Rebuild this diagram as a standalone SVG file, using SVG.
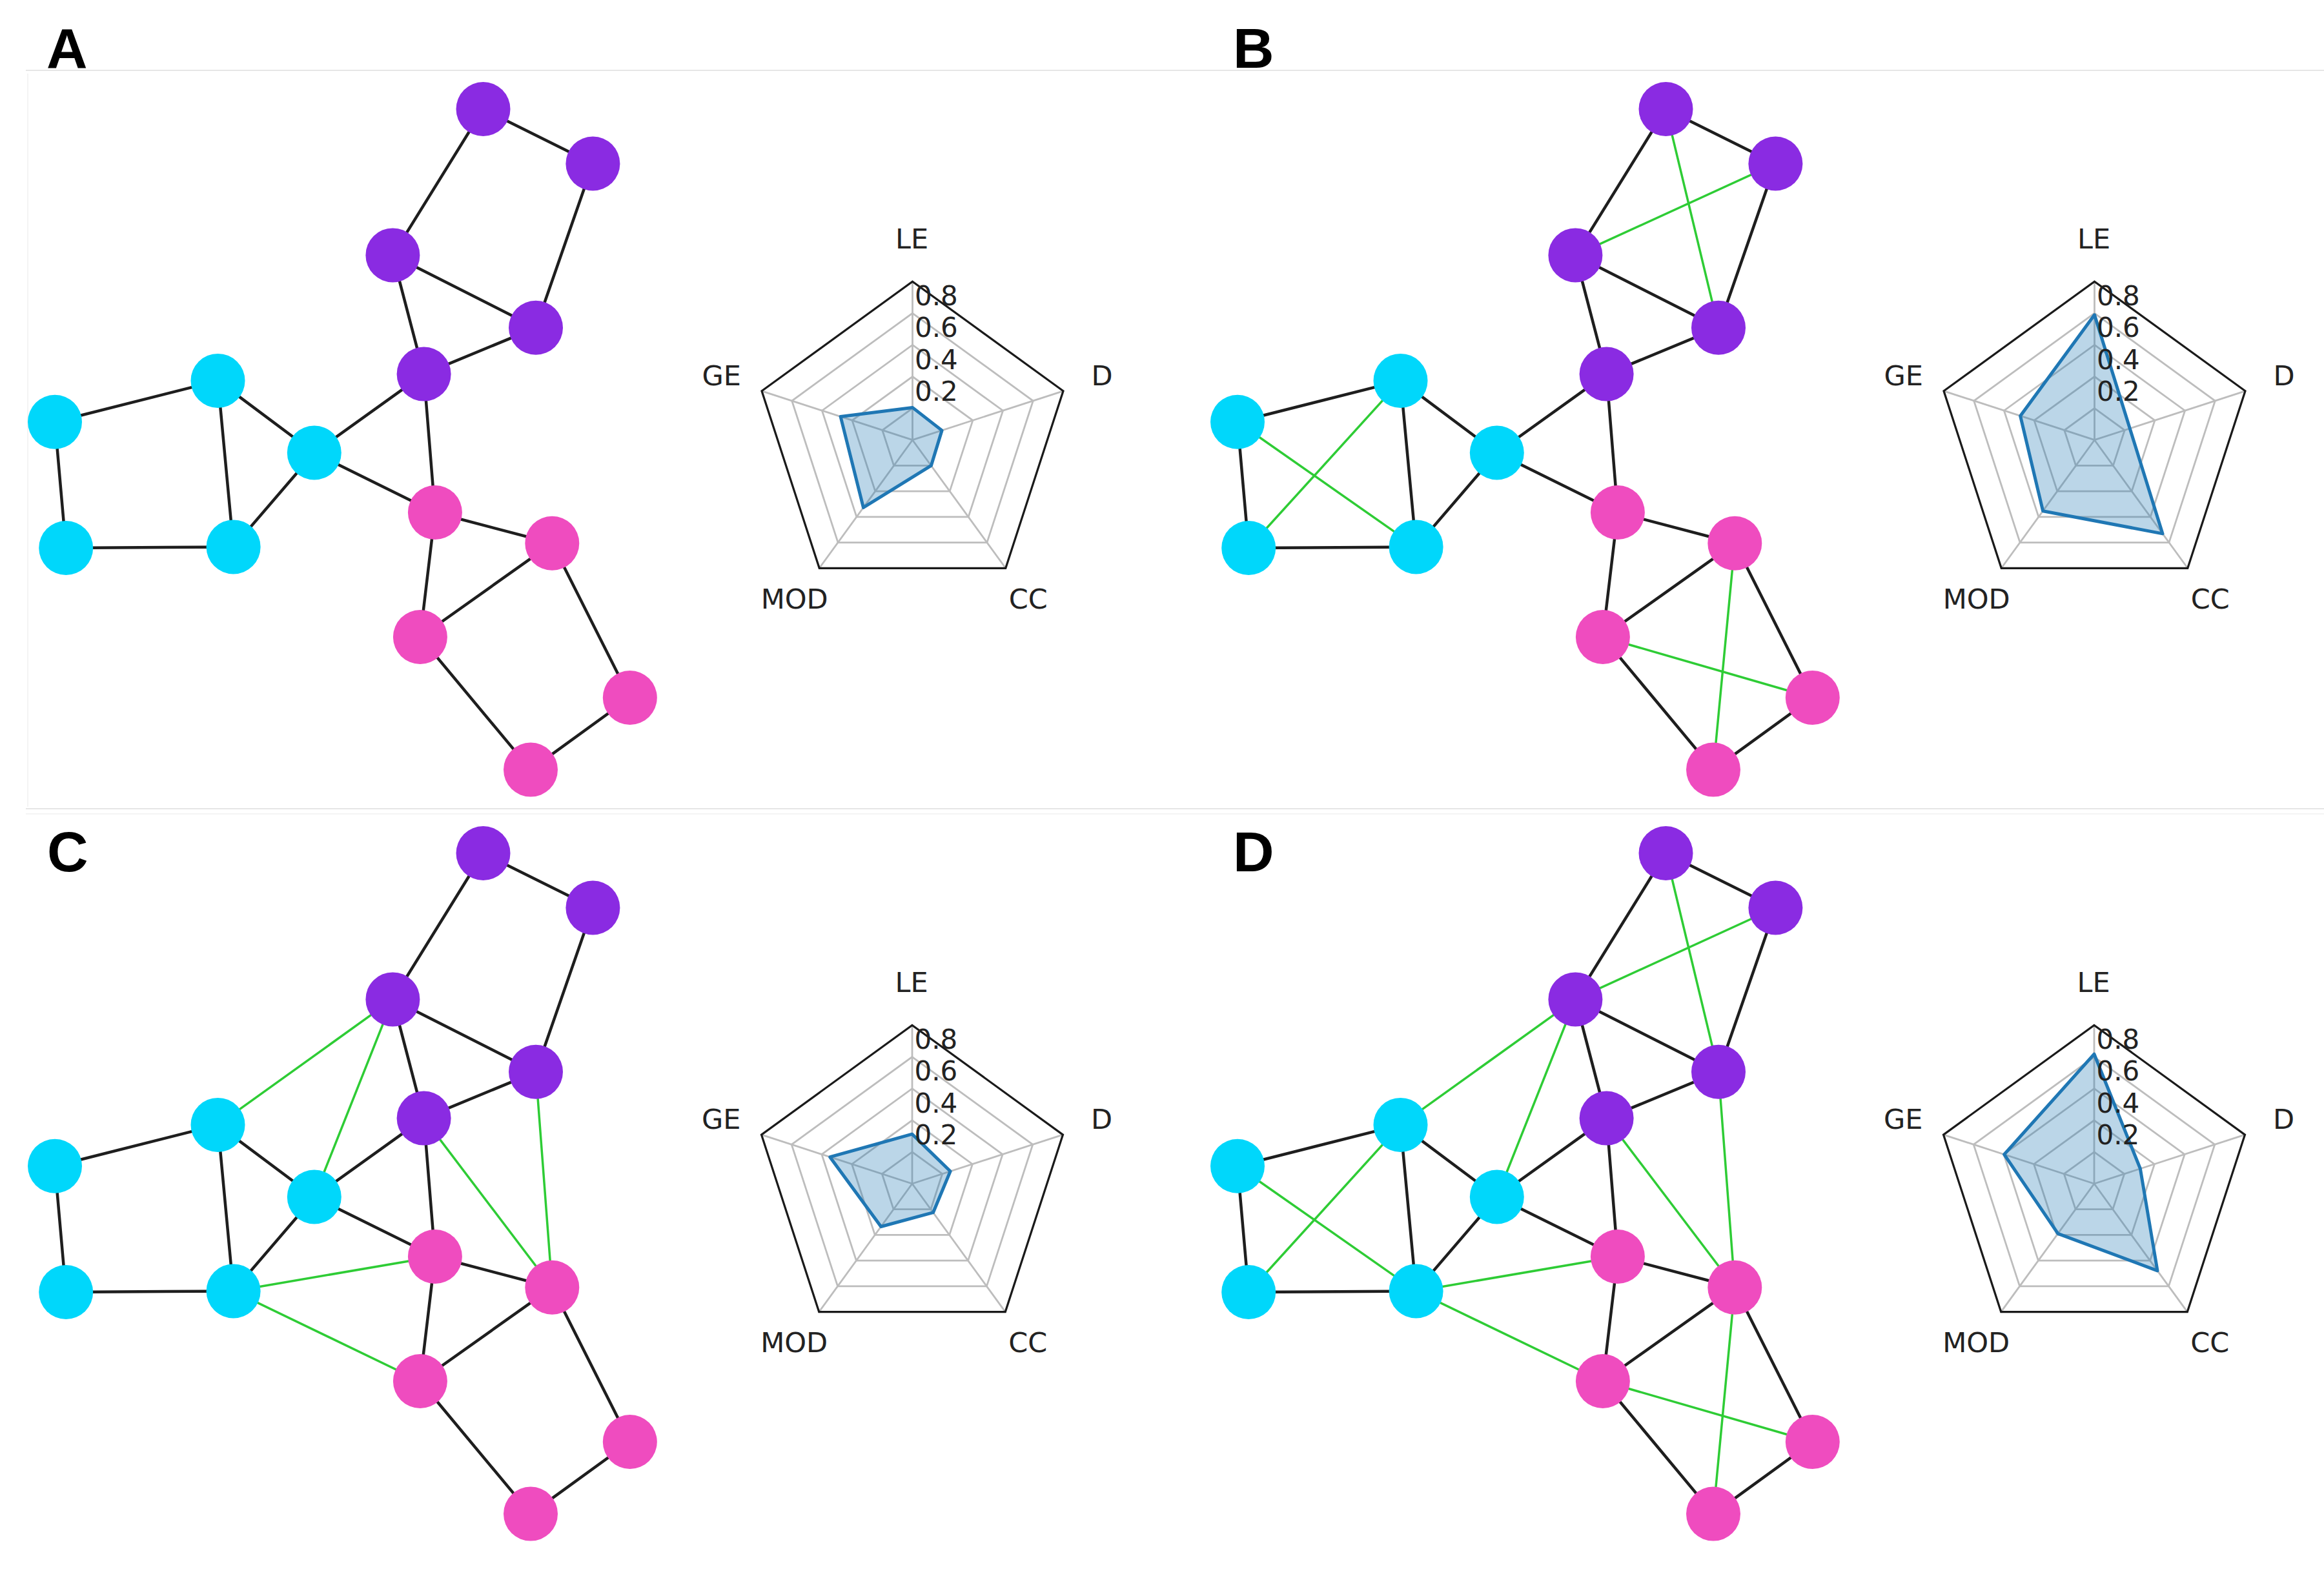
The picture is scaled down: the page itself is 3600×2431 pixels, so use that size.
<svg xmlns="http://www.w3.org/2000/svg" width="3600" height="2431" viewBox="0 0 3600 2431">
<style>
.e{stroke:#1e1e1e;stroke-width:4.5;fill:none;stroke-linecap:round}
.g{stroke:#2ecc35;stroke-width:3.5;fill:none;stroke-linecap:round}
.np{fill:#8a2be2}
.nc{fill:#00d7fb}
.nk{fill:#ef4cbf}
.ring{fill:none;stroke:#bdbdbd;stroke-width:2.8}
.spoke{stroke:#bdbdbd;stroke-width:2.8}
.frame{fill:none;stroke:#1a1a1a;stroke-width:3.2}
.data{fill:#1f77b4;fill-opacity:0.3;stroke:#1f77b4;stroke-width:5;stroke-linejoin:round}
.lab{font-family:"DejaVu Sans",sans-serif;font-size:43px;fill:#222;text-anchor:middle}
.tick{font-family:"DejaVu Sans",sans-serif;font-size:42px;fill:#222}
.title{font-family:"Liberation Sans",Arial,sans-serif;font-size:88px;font-weight:bold;fill:#000}
.sep{stroke:#e6e6e6;stroke-width:2}
.sep2{stroke:#f4f4f4;stroke-width:2}
</style>
<defs>
<g id="radarGrid">
<line class="spoke" x1="0" y1="0" x2="0" y2="-245.5"/>
<line class="spoke" x1="0" y1="0" x2="233.5" y2="-75.9"/>
<line class="spoke" x1="0" y1="0" x2="144.3" y2="198.6"/>
<line class="spoke" x1="0" y1="0" x2="-144.3" y2="198.6"/>
<line class="spoke" x1="0" y1="0" x2="-233.5" y2="-75.9"/>
<polygon class="ring" points="0,-49.1 46.7,-15.2 28.9,39.7 -28.9,39.7 -46.7,-15.2"/>
<polygon class="ring" points="0,-98.2 93.4,-30.3 57.7,79.4 -57.7,79.4 -93.4,-30.3"/>
<polygon class="ring" points="0,-147.3 140.1,-45.5 86.6,119.2 -86.6,119.2 -140.1,-45.5"/>
<polygon class="ring" points="0,-196.4 186.8,-60.7 115.4,158.9 -115.4,158.9 -186.8,-60.7"/>
<polygon class="frame" points="0,-245.5 233.5,-75.9 144.3,198.6 -144.3,198.6 -233.5,-75.9"/>
</g>
<g id="radarText">
<text class="lab" x="-1" y="-297">LE</text>
<text class="lab" x="293.6" y="-84.8">D</text>
<text class="lab" x="179.2" y="261.2">CC</text>
<text class="lab" x="-182.8" y="261.2">MOD</text>
<text class="lab" x="-295.8" y="-84.8">GE</text>
<text class="tick" x="3.5" y="-61">0.2</text>
<text class="tick" x="3.5" y="-110">0.4</text>
<text class="tick" x="3.5" y="-160">0.6</text>
<text class="tick" x="3.5" y="-209">0.8</text>
</g>
</defs>
<rect width="3600" height="2431" fill="#fff"/>
<line class="sep" x1="40" y1="109" x2="3600" y2="109"/>
<line class="sep2" x1="43" y1="114" x2="43" y2="1250"/>
<line class="sep" x1="40" y1="1253" x2="3600" y2="1253"/>
<line class="sep2" x1="40" y1="1261" x2="3600" y2="1261"/>

<!-- Panel A -->
<g id="panelA">
<text class="title" x="72" y="105">A</text>
<g id="A-edges">
<line class="e" x1="748.5" y1="169" x2="918.4" y2="253.5"/>
<line class="e" x1="748.5" y1="169" x2="608.4" y2="395.4"/>
<line class="e" x1="918.4" y1="253.5" x2="830" y2="507.8"/>
<line class="e" x1="608.4" y1="395.4" x2="830" y2="507.8"/>
<line class="e" x1="608.4" y1="395.4" x2="656.6" y2="579.6"/>
<line class="e" x1="830" y1="507.8" x2="656.6" y2="579.6"/>
<line class="e" x1="656.6" y1="579.6" x2="486.8" y2="701.5"/>
<line class="e" x1="656.6" y1="579.6" x2="673.9" y2="794"/>
<line class="e" x1="337.5" y1="589.9" x2="85" y2="653.7"/>
<line class="e" x1="337.5" y1="589.9" x2="486.8" y2="701.5"/>
<line class="e" x1="337.5" y1="589.9" x2="361.6" y2="847.4"/>
<line class="e" x1="85" y1="653.7" x2="102.2" y2="849"/>
<line class="e" x1="102.2" y1="849" x2="361.6" y2="847.4"/>
<line class="e" x1="361.6" y1="847.4" x2="486.8" y2="701.5"/>
<line class="e" x1="486.8" y1="701.5" x2="673.9" y2="794"/>
<line class="e" x1="673.9" y1="794" x2="855.3" y2="841.8"/>
<line class="e" x1="673.9" y1="794" x2="650.9" y2="987"/>
<line class="e" x1="855.3" y1="841.8" x2="650.9" y2="987"/>
<line class="e" x1="855.3" y1="841.8" x2="975.8" y2="1081"/>
<line class="e" x1="650.9" y1="987" x2="822" y2="1192.6"/>
<line class="e" x1="975.8" y1="1081" x2="822" y2="1192.6"/>
</g>
<g id="A-P1"><circle class="np" cx="748.5" cy="169" r="42"/></g>
<g id="A-P2"><circle class="np" cx="918.4" cy="253.5" r="42"/></g>
<g id="A-P3"><circle class="np" cx="608.4" cy="395.4" r="42"/></g>
<g id="A-P4"><circle class="np" cx="830" cy="507.8" r="42"/></g>
<g id="A-P5"><circle class="np" cx="656.6" cy="579.6" r="42"/></g>
<g id="A-C1"><circle class="nc" cx="337.5" cy="589.9" r="42"/></g>
<g id="A-C2"><circle class="nc" cx="85" cy="653.7" r="42"/></g>
<g id="A-C3"><circle class="nc" cx="486.8" cy="701.5" r="42"/></g>
<g id="A-C4"><circle class="nc" cx="102.2" cy="849" r="42"/></g>
<g id="A-C5"><circle class="nc" cx="361.6" cy="847.4" r="42"/></g>
<g id="A-K1"><circle class="nk" cx="673.9" cy="794" r="42"/></g>
<g id="A-K2"><circle class="nk" cx="855.3" cy="841.8" r="42"/></g>
<g id="A-K3"><circle class="nk" cx="650.9" cy="987" r="42"/></g>
<g id="A-K4"><circle class="nk" cx="975.8" cy="1081" r="42"/></g>
<g id="A-K5"><circle class="nk" cx="822" cy="1192.6" r="42"/></g>
<g id="A-radar" transform="translate(1413.5,681.7)">
<use href="#radarGrid"/>
<polygon class="data" points="0,-50.3 45.5,-14.8 28.9,39.7 -76.1,104.7 -111.4,-36.2"/>
<use href="#radarText"/>
</g>
</g>

<!-- Panel B -->
<g id="panelB">
<text class="title" x="1910" y="105">B</text>
<g transform="translate(1832,0)">
<g id="B-edges">
<line class="e" x1="748.5" y1="169" x2="918.4" y2="253.5"/>
<line class="e" x1="748.5" y1="169" x2="608.4" y2="395.4"/>
<line class="e" x1="918.4" y1="253.5" x2="830" y2="507.8"/>
<line class="e" x1="608.4" y1="395.4" x2="830" y2="507.8"/>
<line class="e" x1="608.4" y1="395.4" x2="656.6" y2="579.6"/>
<line class="e" x1="830" y1="507.8" x2="656.6" y2="579.6"/>
<line class="e" x1="656.6" y1="579.6" x2="486.8" y2="701.5"/>
<line class="e" x1="656.6" y1="579.6" x2="673.9" y2="794"/>
<line class="e" x1="337.5" y1="589.9" x2="85" y2="653.7"/>
<line class="e" x1="337.5" y1="589.9" x2="486.8" y2="701.5"/>
<line class="e" x1="337.5" y1="589.9" x2="361.6" y2="847.4"/>
<line class="e" x1="85" y1="653.7" x2="102.2" y2="849"/>
<line class="e" x1="102.2" y1="849" x2="361.6" y2="847.4"/>
<line class="e" x1="361.6" y1="847.4" x2="486.8" y2="701.5"/>
<line class="e" x1="486.8" y1="701.5" x2="673.9" y2="794"/>
<line class="e" x1="673.9" y1="794" x2="855.3" y2="841.8"/>
<line class="e" x1="673.9" y1="794" x2="650.9" y2="987"/>
<line class="e" x1="855.3" y1="841.8" x2="650.9" y2="987"/>
<line class="e" x1="855.3" y1="841.8" x2="975.8" y2="1081"/>
<line class="e" x1="650.9" y1="987" x2="822" y2="1192.6"/>
<line class="e" x1="975.8" y1="1081" x2="822" y2="1192.6"/>
<line class="g" x1="748.5" y1="169" x2="830" y2="507.8"/>
<line class="g" x1="918.4" y1="253.5" x2="608.4" y2="395.4"/>
<line class="g" x1="337.5" y1="589.9" x2="102.2" y2="849"/>
<line class="g" x1="85" y1="653.7" x2="361.6" y2="847.4"/>
<line class="g" x1="855.3" y1="841.8" x2="822" y2="1192.6"/>
<line class="g" x1="650.9" y1="987" x2="975.8" y2="1081"/>
</g>
<g id="B-P1"><circle class="np" cx="748.5" cy="169" r="42"/></g>
<g id="B-P2"><circle class="np" cx="918.4" cy="253.5" r="42"/></g>
<g id="B-P3"><circle class="np" cx="608.4" cy="395.4" r="42"/></g>
<g id="B-P4"><circle class="np" cx="830" cy="507.8" r="42"/></g>
<g id="B-P5"><circle class="np" cx="656.6" cy="579.6" r="42"/></g>
<g id="B-C1"><circle class="nc" cx="337.5" cy="589.9" r="42"/></g>
<g id="B-C2"><circle class="nc" cx="85" cy="653.7" r="42"/></g>
<g id="B-C3"><circle class="nc" cx="486.8" cy="701.5" r="42"/></g>
<g id="B-C4"><circle class="nc" cx="102.2" cy="849" r="42"/></g>
<g id="B-C5"><circle class="nc" cx="361.6" cy="847.4" r="42"/></g>
<g id="B-K1"><circle class="nk" cx="673.9" cy="794" r="42"/></g>
<g id="B-K2"><circle class="nk" cx="855.3" cy="841.8" r="42"/></g>
<g id="B-K3"><circle class="nk" cx="650.9" cy="987" r="42"/></g>
<g id="B-K4"><circle class="nk" cx="975.8" cy="1081" r="42"/></g>
<g id="B-K5"><circle class="nk" cx="822" cy="1192.6" r="42"/></g>
</g>
<g id="B-radar" transform="translate(3244.5,681.7)">
<use href="#radarGrid"/>
<polygon class="data" points="0,-193.9 54.8,-17.8 105.5,145.2 -79.9,110 -114.9,-37.3"/>
<use href="#radarText"/>
</g>
</g>

<!-- Panel C -->
<g id="panelC">
<text class="title" x="73" y="1350">C</text>
<g transform="translate(0,1153)">
<g id="C-edges">
<line class="e" x1="748.5" y1="169" x2="918.4" y2="253.5"/>
<line class="e" x1="748.5" y1="169" x2="608.4" y2="395.4"/>
<line class="e" x1="918.4" y1="253.5" x2="830" y2="507.8"/>
<line class="e" x1="608.4" y1="395.4" x2="830" y2="507.8"/>
<line class="e" x1="608.4" y1="395.4" x2="656.6" y2="579.6"/>
<line class="e" x1="830" y1="507.8" x2="656.6" y2="579.6"/>
<line class="e" x1="656.6" y1="579.6" x2="486.8" y2="701.5"/>
<line class="e" x1="656.6" y1="579.6" x2="673.9" y2="794"/>
<line class="e" x1="337.5" y1="589.9" x2="85" y2="653.7"/>
<line class="e" x1="337.5" y1="589.9" x2="486.8" y2="701.5"/>
<line class="e" x1="337.5" y1="589.9" x2="361.6" y2="847.4"/>
<line class="e" x1="85" y1="653.7" x2="102.2" y2="849"/>
<line class="e" x1="102.2" y1="849" x2="361.6" y2="847.4"/>
<line class="e" x1="361.6" y1="847.4" x2="486.8" y2="701.5"/>
<line class="e" x1="486.8" y1="701.5" x2="673.9" y2="794"/>
<line class="e" x1="673.9" y1="794" x2="855.3" y2="841.8"/>
<line class="e" x1="673.9" y1="794" x2="650.9" y2="987"/>
<line class="e" x1="855.3" y1="841.8" x2="650.9" y2="987"/>
<line class="e" x1="855.3" y1="841.8" x2="975.8" y2="1081"/>
<line class="e" x1="650.9" y1="987" x2="822" y2="1192.6"/>
<line class="e" x1="975.8" y1="1081" x2="822" y2="1192.6"/>
<line class="g" x1="337.5" y1="589.9" x2="608.4" y2="395.4"/>
<line class="g" x1="486.8" y1="701.5" x2="608.4" y2="395.4"/>
<line class="g" x1="830" y1="507.8" x2="855.3" y2="841.8"/>
<line class="g" x1="656.6" y1="579.6" x2="855.3" y2="841.8"/>
<line class="g" x1="361.6" y1="847.4" x2="673.9" y2="794"/>
<line class="g" x1="361.6" y1="847.4" x2="650.9" y2="987"/>
</g>
<g id="C-P1"><circle class="np" cx="748.5" cy="169" r="42"/></g>
<g id="C-P2"><circle class="np" cx="918.4" cy="253.5" r="42"/></g>
<g id="C-P3"><circle class="np" cx="608.4" cy="395.4" r="42"/></g>
<g id="C-P4"><circle class="np" cx="830" cy="507.8" r="42"/></g>
<g id="C-P5"><circle class="np" cx="656.6" cy="579.6" r="42"/></g>
<g id="C-C1"><circle class="nc" cx="337.5" cy="589.9" r="42"/></g>
<g id="C-C2"><circle class="nc" cx="85" cy="653.7" r="42"/></g>
<g id="C-C3"><circle class="nc" cx="486.8" cy="701.5" r="42"/></g>
<g id="C-C4"><circle class="nc" cx="102.2" cy="849" r="42"/></g>
<g id="C-C5"><circle class="nc" cx="361.6" cy="847.4" r="42"/></g>
<g id="C-K1"><circle class="nk" cx="673.9" cy="794" r="42"/></g>
<g id="C-K2"><circle class="nk" cx="855.3" cy="841.8" r="42"/></g>
<g id="C-K3"><circle class="nk" cx="650.9" cy="987" r="42"/></g>
<g id="C-K4"><circle class="nk" cx="975.8" cy="1081" r="42"/></g>
<g id="C-K5"><circle class="nk" cx="822" cy="1192.6" r="42"/></g>
</g>
<g id="C-radar" transform="translate(1413,1834)">
<use href="#radarGrid"/>
<polygon class="data" points="0,-76.8 59.1,-19.2 32.5,44.7 -48.3,66.5 -127.3,-41.3"/>
<use href="#radarText"/>
</g>
</g>

<!-- Panel D -->
<g id="panelD">
<text class="title" x="1910" y="1350">D</text>
<g transform="translate(1832,1153)">
<g id="D-edges">
<line class="e" x1="748.5" y1="169" x2="918.4" y2="253.5"/>
<line class="e" x1="748.5" y1="169" x2="608.4" y2="395.4"/>
<line class="e" x1="918.4" y1="253.5" x2="830" y2="507.8"/>
<line class="e" x1="608.4" y1="395.4" x2="830" y2="507.8"/>
<line class="e" x1="608.4" y1="395.4" x2="656.6" y2="579.6"/>
<line class="e" x1="830" y1="507.8" x2="656.6" y2="579.6"/>
<line class="e" x1="656.6" y1="579.6" x2="486.8" y2="701.5"/>
<line class="e" x1="656.6" y1="579.6" x2="673.9" y2="794"/>
<line class="e" x1="337.5" y1="589.9" x2="85" y2="653.7"/>
<line class="e" x1="337.5" y1="589.9" x2="486.8" y2="701.5"/>
<line class="e" x1="337.5" y1="589.9" x2="361.6" y2="847.4"/>
<line class="e" x1="85" y1="653.7" x2="102.2" y2="849"/>
<line class="e" x1="102.2" y1="849" x2="361.6" y2="847.4"/>
<line class="e" x1="361.6" y1="847.4" x2="486.8" y2="701.5"/>
<line class="e" x1="486.8" y1="701.5" x2="673.9" y2="794"/>
<line class="e" x1="673.9" y1="794" x2="855.3" y2="841.8"/>
<line class="e" x1="673.9" y1="794" x2="650.9" y2="987"/>
<line class="e" x1="855.3" y1="841.8" x2="650.9" y2="987"/>
<line class="e" x1="855.3" y1="841.8" x2="975.8" y2="1081"/>
<line class="e" x1="650.9" y1="987" x2="822" y2="1192.6"/>
<line class="e" x1="975.8" y1="1081" x2="822" y2="1192.6"/>
<line class="g" x1="748.5" y1="169" x2="830" y2="507.8"/>
<line class="g" x1="918.4" y1="253.5" x2="608.4" y2="395.4"/>
<line class="g" x1="337.5" y1="589.9" x2="102.2" y2="849"/>
<line class="g" x1="85" y1="653.7" x2="361.6" y2="847.4"/>
<line class="g" x1="855.3" y1="841.8" x2="822" y2="1192.6"/>
<line class="g" x1="650.9" y1="987" x2="975.8" y2="1081"/>
<line class="g" x1="337.5" y1="589.9" x2="608.4" y2="395.4"/>
<line class="g" x1="486.8" y1="701.5" x2="608.4" y2="395.4"/>
<line class="g" x1="830" y1="507.8" x2="855.3" y2="841.8"/>
<line class="g" x1="656.6" y1="579.6" x2="855.3" y2="841.8"/>
<line class="g" x1="361.6" y1="847.4" x2="673.9" y2="794"/>
<line class="g" x1="361.6" y1="847.4" x2="650.9" y2="987"/>
</g>
<g id="D-P1"><circle class="np" cx="748.5" cy="169" r="42"/></g>
<g id="D-P2"><circle class="np" cx="918.4" cy="253.5" r="42"/></g>
<g id="D-P3"><circle class="np" cx="608.4" cy="395.4" r="42"/></g>
<g id="D-P4"><circle class="np" cx="830" cy="507.8" r="42"/></g>
<g id="D-P5"><circle class="np" cx="656.6" cy="579.6" r="42"/></g>
<g id="D-C1"><circle class="nc" cx="337.5" cy="589.9" r="42"/></g>
<g id="D-C2"><circle class="nc" cx="85" cy="653.7" r="42"/></g>
<g id="D-C3"><circle class="nc" cx="486.8" cy="701.5" r="42"/></g>
<g id="D-C4"><circle class="nc" cx="102.2" cy="849" r="42"/></g>
<g id="D-C5"><circle class="nc" cx="361.6" cy="847.4" r="42"/></g>
<g id="D-K1"><circle class="nk" cx="673.9" cy="794" r="42"/></g>
<g id="D-K2"><circle class="nk" cx="855.3" cy="841.8" r="42"/></g>
<g id="D-K3"><circle class="nk" cx="650.9" cy="987" r="42"/></g>
<g id="D-K4"><circle class="nk" cx="975.8" cy="1081" r="42"/></g>
<g id="D-K5"><circle class="nk" cx="822" cy="1192.6" r="42"/></g>
</g>
<g id="D-radar" transform="translate(3244,1834)">
<use href="#radarGrid"/>
<polygon class="data" points="0,-200.8 71.4,-23.2 98,134.9 -56.1,77.3 -139.4,-45.3"/>
<use href="#radarText"/>
</g>
</g>
</svg>
